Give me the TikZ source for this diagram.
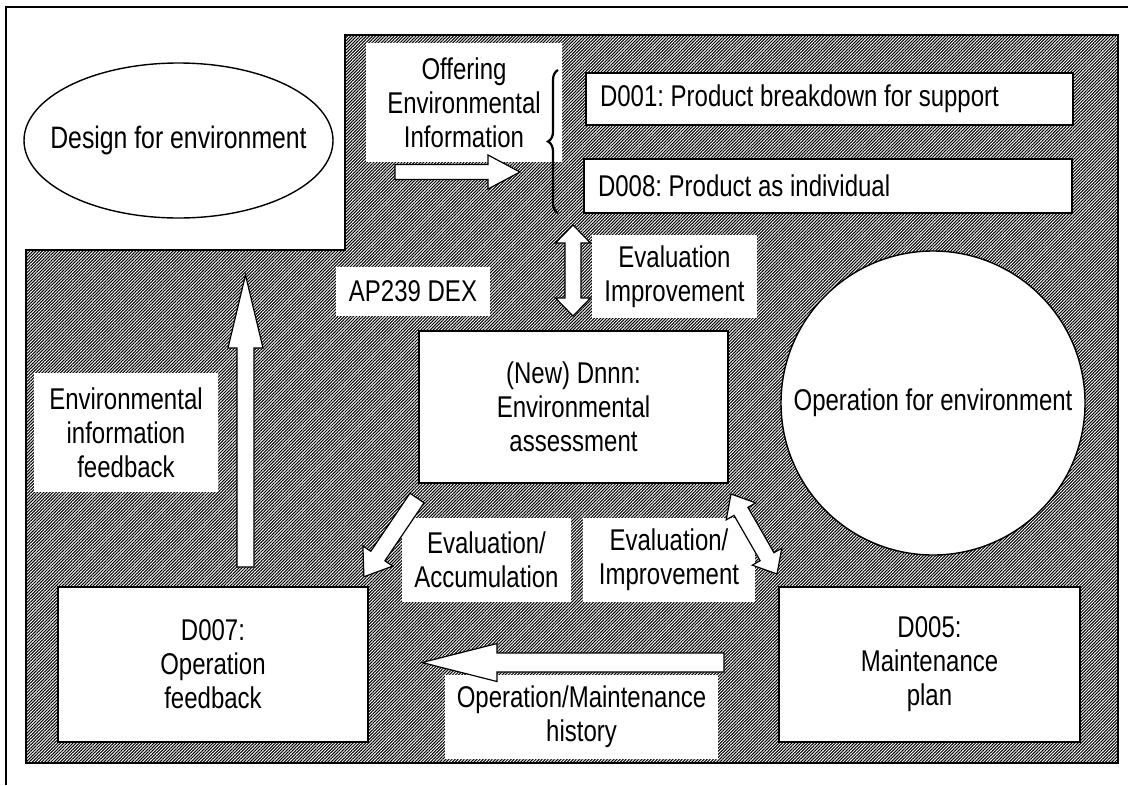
\documentclass[tikz,border=0pt]{standalone}
\usepackage{fontspec}
\setmainfont{Liberation Sans}[FakeStretch=0.8]
\usetikzlibrary{patterns.meta,decorations.pathreplacing,shapes.geometric}

% block arrow: tail coordinate, angle, length, shaft half width, head half width, head length
\newcommand\singleblock[6]{%
  \draw[blockarrow, shift={(#1)}, rotate=#2]
    (0,#4) -- ({#3-#6},#4) -- ({#3-#6},#5) -- (#3,0) -- ({#3-#6},-#5)
    -- ({#3-#6},-#4) -- (0,-#4) -- cycle;}
\newcommand\doubleblock[6]{%
  \draw[blockarrow, shift={(#1)}, rotate=#2]
    (0,0) -- (#6,#5) -- (#6,#4) -- ({#3-#6},#4) -- ({#3-#6},#5) -- (#3,0)
    -- ({#3-#6},-#5) -- ({#3-#6},-#4) -- (#6,-#4) -- (#6,-#5) -- cycle;}
% left-aligned line of fixed width
\newcommand\flushline[2]{\hbox to #1{#2\hfil}}

\begin{document}
\frenchspacing
\begin{tikzpicture}[x=1pt, y=-1pt,
  every node/.style={font=\fontsize{30}{34}\selectfont, inner sep=0pt},
  hatch/.style={draw=black, line width=1.4pt,
    pattern={Lines[angle=45, distance=2.2pt, line width=1.05pt]}},
  tag/.style={fill=white, align=center},
  box/.style={draw=black, line width=1.4pt, fill=white, align=center},
  blockarrow/.style={draw=black, line width=1.2pt, fill=white, line join=miter},
]
\useasboundingbox (0,0) rectangle (1131,785);

% outer frame
\draw[line width=1.5pt] (6,785) -- (6,7) -- (1128,7);

% shaded working area
\path[hatch] (345,35) -- (1118,35) -- (1118,763) -- (26,763) -- (26,250)
  -- (345,250) -- cycle;

% design side (text kept out of the size computation of the ellipse)
\node[box, ellipse, minimum width=309, minimum height=155,
  font=\fontsize{31}{36}\selectfont] (design)
  at (178.5,140.5) {\makebox[0pt]{Design for environment}};

% data exchange modules
\node[box, minimum width=487, minimum height=52] (d001) at (829.5,99)
  {\flushline{459pt}{D001: Product breakdown for support}};
\node[box, minimum width=488, minimum height=54] (d008) at (828,186)
  {\flushline{460pt}{D008: Product as individual}};
\node[box, minimum width=309, minimum height=152] (assess) at (573.5,407)
  {(New) Dnnn:\\Environmental\\assessment};
\node[box, minimum width=310, minimum height=155] (d007) at (213,664.5)
  {D007:\\Operation\\feedback};
\node[box, minimum width=301, minimum height=155] (d005) at (929.5,664.5)
  {D005:\\Maintenance\\plan};
\node[box, circle, minimum size=304] (oper) at (933,403)
  {Operation for environment};

% labels
\node[tag, minimum width=196, minimum height=119] (offer) at (464,102.5)
  {Offering\\Environmental\\Information};
\node[tag, minimum width=165, minimum height=83] (evimp) at (674.5,276.5)
  {Evaluation\\Improvement};
\node[tag, minimum width=154, minimum height=49] (dex) at (413,291.5)
  {AP239 DEX};
\node[tag, minimum width=184, minimum height=119] (envfb) at (126,432.5)
  {Environmental\\information\\feedback};
\node[tag, minimum width=169, minimum height=84] (evacc) at (486.5,560)
  {Evaluation/\\Accumulation};
\node[tag, minimum width=172, minimum height=84] (evimp2) at (669,560)
  {Evaluation/\\Improvement};
\node[tag, minimum width=273, minimum height=84] (omh) at (581.5,717)
  {Operation/Maintenance\\history};

% arrow anchors
\coordinate (offerTail) at (395,172);
\coordinate (evimpTail) at (573,316);
\coordinate (fbTail) at (245.5,567);
\coordinate (accTail) at (417,498);
\coordinate (impTail) at (731,494);
\coordinate (omTail) at (724,662.5);

\singleblock{offerTail}{0}{125}{7.5}{17}{32}
\doubleblock{evimpTail}{90}{91}{8}{17.5}{18}
\singleblock{fbTail}{90}{292}{8.5}{17.5}{73}
\singleblock{accTail}{236}{95}{8.5}{18}{25}
\doubleblock{impTail}{-60.1}{92.3}{8}{17}{20}
\singleblock{omTail}{180}{302}{9.5}{19}{75}

% brace grouping D001 and D008
\coordinate (braceLow) at (558,213);
\coordinate (braceHigh) at (558,70);
\draw[line width=2.2pt, decorate, decoration={brace, amplitude=10pt}]
  (braceLow) -- (braceHigh);
\end{tikzpicture}
\end{document}
